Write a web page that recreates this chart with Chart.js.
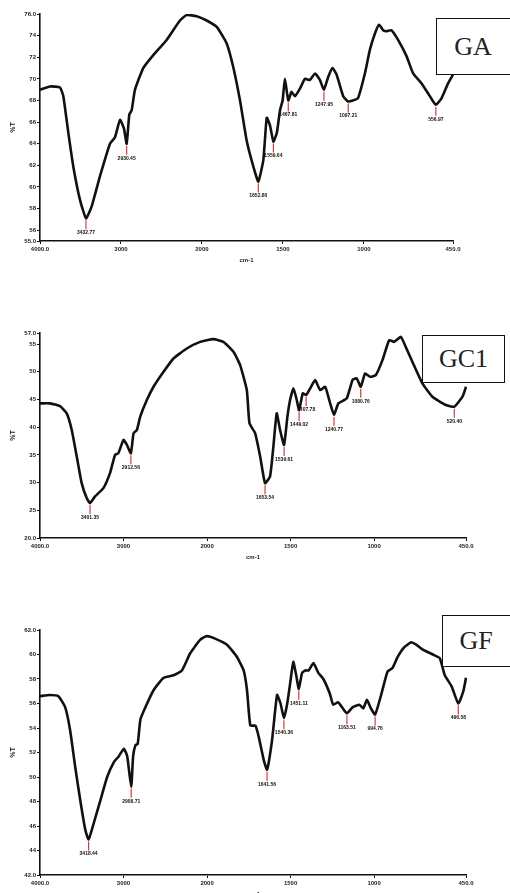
<!DOCTYPE html>
<html>
<head>
<meta charset="utf-8">
<script src="https://cdn.jsdelivr.net/npm/chart.js@4.4.1/dist/chart.umd.min.js"></script>
<style>
    html, body { margin: 0; padding: 0; background: #fff; width: 510px; height: 893px; overflow: hidden; }
    body { position: relative; }
    .panel { position: absolute; left: 0; }
    .tag {
        position: absolute; background: #fff; border: 1.8px solid #111; box-sizing: border-box;
        font-family: 'Liberation Serif', 'Times New Roman', serif; font-size: 26px; color: #222;
        display: flex; align-items: center; justify-content: center;
    }
</style>
</head>
<body>
<canvas id="chartGA" class="panel" style="top:0px" width="510" height="272"></canvas>
<canvas id="chartGC" class="panel" style="top:300px" width="510" height="269"></canvas>
<canvas id="chartGF" class="panel" style="top:600px" width="510" height="306"></canvas>

<div class="tag" style="left:436px;top:18px;width:90px;height:57px;padding-right:16px">GA</div>
<div class="tag" style="left:422px;top:335px;width:83px;height:48px">GC1</div>
<div class="tag" style="left:442px;top:615px;width:80px;height:52px;padding-right:12px">GF</div>

<script>
// x axis (cm-1), split scale: 1000 cm-1 per division above 2000, 500 below
const xTicks = [4000, 3000, 2000, 1500, 1000, 450];
const xTickLabels = ['4000.0', '3000', '2000', '1500', '1000', '450.0'];

// GA spectrum
const gaWn = [4000, 3877, 3753, 3712, 3650, 3589, 3506, 3432, 3362, 3259, 3136, 3074, 3012, 2963, 2930, 2897, 2868, 2827,
    2725, 2601, 2436, 2272, 2189, 2066, 1971, 1909, 1848, 1807, 1765, 1724, 1683, 1652, 1621, 1600, 1580, 1559, 1538, 1518,
    1502, 1488, 1467, 1447, 1426, 1395, 1364, 1333, 1302, 1272, 1247, 1220, 1194, 1169, 1128, 1097, 1068, 1037, 994, 963,
    932, 906, 881, 861, 830, 789, 737, 696, 645, 593, 556, 521, 480, 450];
const gaT = [69.0, 69.3, 69.2, 68.4, 65.0, 61.9, 58.8, 57.1, 58.2, 61.0, 64.0, 64.6, 66.2, 65.4, 64.0, 66.7, 67.1, 69.0,
    71.0, 72.2, 73.6, 75.4, 75.9, 75.8, 75.4, 74.8, 73.3, 71.1, 68.0, 64.3, 61.9, 60.5, 62.5, 66.4, 65.7, 64.2, 65.0, 67.1,
    68.0, 70.0, 68.0, 68.8, 68.4, 69.1, 70.0, 69.9, 70.5, 69.9, 69.0, 70.2, 71.0, 70.4, 68.4, 67.9, 68.0, 68.2, 70.5, 72.7,
    74.2, 75.0, 74.5, 74.4, 74.5, 73.6, 72.1, 70.5, 69.6, 68.4, 67.6, 68.2, 69.6, 70.4];
const gaYTicks = [55, 56, 58, 60, 62, 64, 66, 68, 70, 72, 74, 76];
const gaPeakWn = [3432, 2930, 1652, 1559, 1467, 1247, 1097, 556];
const gaPeakT = [57.1, 64.0, 60.5, 64.2, 68.0, 69.0, 67.9, 67.6];
const gaPeakLabels = ['3432.77', '2930.45', '1652.80', '1559.64', '1467.81', '1247.95', '1097.21', '556.97'];

// GC1 spectrum
const gcWn = [4000, 3880, 3760, 3680, 3620, 3560, 3501, 3441, 3401, 3341, 3241, 3162, 3102, 3062, 3000, 2960, 2912, 2880,
    2840, 2800, 2721, 2641, 2521, 2402, 2242, 2083, 1962, 1902, 1842, 1802, 1762, 1746, 1712, 1682, 1653, 1623, 1603, 1583,
    1563, 1539, 1519, 1503, 1483, 1463, 1449, 1427, 1407, 1383, 1353, 1323, 1293, 1263, 1240, 1214, 1164, 1128, 1104, 1080,
    1054, 1024, 990, 950, 910, 880, 840, 811, 771, 711, 651, 571, 520, 471, 450];
const gcT = [44.3, 44.3, 43.8, 42.5, 39.5, 34.7, 29.9, 27.2, 26.3, 27.5, 29.0, 31.7, 35.0, 35.3, 37.7, 36.8, 35.3, 38.9,
    39.5, 41.9, 44.9, 47.3, 50.0, 52.4, 54.2, 55.4, 55.9, 55.4, 53.6, 51.2, 46.7, 40.7, 38.9, 34.7, 29.9, 31.1, 36.5, 42.5,
    39.5, 36.8, 41.9, 44.9, 47.0, 44.9, 43.1, 46.1, 45.8, 47.0, 48.5, 46.7, 47.3, 44.3, 42.2, 44.3, 45.2, 48.6, 48.8, 47.3,
    49.7, 49.1, 49.4, 52.1, 55.7, 55.4, 56.3, 54.5, 51.8, 47.9, 45.5, 44.0, 43.7, 45.5, 47.3];
const gcYTicks = [20, 25, 30, 35, 40, 45, 50, 55, 57];
const gcPeakWn = [3401, 2912, 1653, 1539, 1449, 1407, 1240, 1080, 520];
const gcPeakT = [26.3, 35.3, 29.9, 36.8, 43.1, 45.8, 42.2, 47.3, 43.7];
const gcPeakLabels = ['3401.35', '2912.56', '1653.54', '1539.61', '1449.02', '1407.78', '1240.77', '1080.76', '520.40'];

// GF spectrum
const gfWn = [4000, 3880, 3780, 3699, 3639, 3578, 3518, 3458, 3418, 3358, 3277, 3196, 3117, 3056, 2996, 2956, 2908, 2885,
    2857, 2830, 2798, 2738, 2639, 2520, 2401, 2301, 2202, 2083, 2004, 1952, 1881, 1821, 1781, 1761, 1741, 1711, 1691, 1661,
    1641, 1611, 1581, 1560, 1540, 1520, 1500, 1484, 1465, 1451, 1431, 1412, 1392, 1363, 1334, 1304, 1265, 1245, 1216, 1187,
    1163, 1128, 1088, 1065, 1043, 1019, 994, 960, 920, 890, 859, 819, 778, 748, 708, 648, 607, 577, 536, 496, 466, 450];
const gfT = [56.6, 56.7, 56.6, 55.7, 53.8, 50.8, 48.1, 45.7, 44.9, 46.2, 48.1, 50.0, 51.2, 51.7, 52.3, 51.7, 49.2, 51.7,
    52.6, 52.7, 54.7, 55.7, 57.1, 58.1, 58.3, 58.7, 60.1, 61.2, 61.5, 61.3, 60.8, 59.8, 58.7, 57.1, 54.2, 54.2, 53.3, 51.4,
    50.6, 53.0, 56.7, 56.0, 54.8, 56.0, 57.9, 59.4, 58.2, 57.2, 58.5, 58.7, 58.7, 59.3, 58.5, 58.0, 56.8, 55.9, 56.1, 55.6,
    55.2, 55.7, 55.9, 55.6, 56.3, 55.6, 55.1, 56.6, 58.6, 58.9, 59.8, 60.6, 61.0, 60.8, 60.4, 60.0, 59.7, 58.3, 57.4, 56.0,
    57.0, 58.1];
const gfYTicks = [42, 44, 46, 48, 50, 52, 54, 56, 58, 60, 62];
const gfPeakWn = [3418, 2908, 1641, 1540, 1451, 1163, 994, 496];
const gfPeakT = [44.9, 49.2, 50.6, 54.8, 57.2, 55.2, 55.1, 56.0];
const gfPeakLabels = ['3418.44', '2908.71', '1641.56', '1540.36', '1451.11', '1163.51', '994.76', '496.58'];

// split axis: position in "divisions" from the left edge
function wnToPos(wn) {
    return wn >= 2000 ? (4000 - wn) / 1000 : 2 + (2000 - wn) / 500;
}
function posToWn(p) {
    return p <= 2 ? 4000 - p * 1000 : 2000 - (p - 2) * 500;
}

const BaseLinear = Chart.LinearScale || Chart.registry.getScale('linear');
class SplitScale extends BaseLinear {
    determineDataLimits() {
        this.min = wnToPos(xTicks[0]);
        this.max = wnToPos(xTicks[xTicks.length - 1]);
    }
    buildTicks() {
        return xTicks.map(v => ({ value: v }));
    }
    getPixelForValue(value) {
        return super.getPixelForValue(wnToPos(value));
    }
    getValueForPixel(pixel) {
        return posToWn(super.getValueForPixel(pixel));
    }
}
SplitScale.id = 'split';
SplitScale.defaults = BaseLinear.defaults;
Chart.register(SplitScale);

function peakMarkers(wns, ts, labels) {
    return {
        id: 'peakMarkers',
        afterDatasetsDraw(chart) {
            const { ctx, scales: { x, y } } = chart;
            ctx.save();
            wns.forEach((w, i) => {
                const px = x.getPixelForValue(w);
                const py = y.getPixelForValue(ts[i]);
                ctx.strokeStyle = '#d23c3c';
                ctx.lineWidth = 1.2;
                ctx.beginPath();
                ctx.moveTo(px, py + 2);
                ctx.lineTo(px, py + 11);
                ctx.stroke();
                ctx.fillStyle = '#111';
                ctx.font = 'bold 5px "Liberation Sans", Arial, sans-serif';
                ctx.textAlign = 'center';
                ctx.textBaseline = 'top';
                ctx.fillText(labels[i], px, py + 12);
            });
            ctx.restore();
        }
    };
}

function renderSpectrum(canvasId, wn, t, yTicks, peaks, padTop, padRight) {
    const ctx = document.getElementById(canvasId).getContext('2d');
    const yMin = yTicks[0], yMax = yTicks[yTicks.length - 1];
    return new Chart(ctx, {
        type: 'line',
        data: {
            datasets: [{
                data: wn.map((w, i) => ({ x: w, y: t[i] })),
                borderColor: '#111',
                borderWidth: 2.6,
                pointRadius: 0,
                tension: 0.15,
                fill: false
            }]
        },
        options: {
            responsive: false,
            animation: false,
            layout: { padding: { top: padTop, right: padRight, left: 0, bottom: 0 } },
            plugins: { legend: { display: false }, tooltip: { enabled: false } },
            scales: {
                x: {
                    type: 'split',
                    border: { color: '#111', width: 1.6 },
                    grid: { drawOnChartArea: false, drawTicks: true, tickLength: 3, color: '#111' },
                    ticks: {
                        autoSkip: false, maxRotation: 0, padding: 2, color: '#222',
                        font: { size: 6, weight: 'bold', family: 'Liberation Sans' },
                        callback: v => xTickLabels[xTicks.indexOf(v)]
                    },
                    title: {
                        display: true, text: 'cm-1', color: '#222',
                        font: { size: 6, weight: 'bold', family: 'Liberation Sans' },
                        padding: { top: 0, bottom: 8 }
                    },
                    afterFit: s => { s.height = 31; }
                },
                y: {
                    min: yMin, max: yMax,
                    border: { color: '#111', width: 1.6 },
                    grid: { drawOnChartArea: false, drawTicks: true, tickLength: 3, color: '#111' },
                    ticks: {
                        autoSkip: false, padding: 1, color: '#222',
                        font: { size: 6, weight: 'bold', family: 'Liberation Sans' },
                        callback: v => (v === yMin || v === yMax) ? v.toFixed(1) : String(v)
                    },
                    afterBuildTicks: s => { s.ticks = yTicks.map(v => ({ value: v })); },
                    title: {
                        display: true, text: '%T', color: '#222',
                        font: { size: 7, weight: 'bold', family: 'Liberation Sans' },
                        padding: { top: 9, bottom: 0 }
                    },
                    afterFit: s => { s.width = 40; }
                }
            }
        },
        plugins: [peaks]
    });
}

renderSpectrum('chartGA', gaWn, gaT, gaYTicks, peakMarkers(gaPeakWn, gaPeakT, gaPeakLabels), 14, 57);
renderSpectrum('chartGC', gcWn, gcT, gcYTicks, peakMarkers(gcPeakWn, gcPeakT, gcPeakLabels), 33, 44);
renderSpectrum('chartGF', gfWn, gfT, gfYTicks, peakMarkers(gfPeakWn, gfPeakT, gfPeakLabels), 30, 44);
</script>
</body>
</html>
